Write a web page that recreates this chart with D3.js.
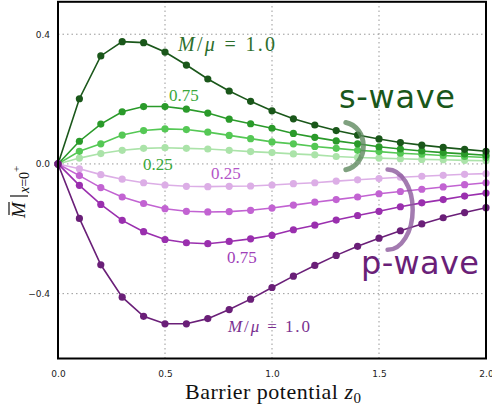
<!DOCTYPE html>
<html>
<head>
<meta charset="utf-8">
<script src="https://cdn.jsdelivr.net/npm/d3@7"></script>
<style>
  body { margin: 0; background: #fff; }
  svg { display: block; }
</style>
</head>
<body>
<svg width="492" height="408"></svg>
<script>
// barrier potential z0, sampled every 0.1
const z0 = d3.range(21).map(i => i / 10);

// s-wave (green), M/mu = 1.0, 0.75, 0.5, 0.25
const s100 = [0, 0.201, 0.333, 0.377, 0.374, 0.345, 0.305, 0.262, 0.225, 0.193, 0.164, 0.139, 0.120, 0.103, 0.089, 0.077, 0.066, 0.058, 0.051, 0.045, 0.039];
const s075 = [0, 0.070, 0.123, 0.161, 0.177, 0.177, 0.169, 0.157, 0.138, 0.124, 0.110, 0.094, 0.082, 0.071, 0.062, 0.053, 0.046, 0.040, 0.035, 0.031, 0.027];
const s050 = [0, 0.039, 0.062, 0.089, 0.103, 0.108, 0.106, 0.098, 0.088, 0.078, 0.068, 0.062, 0.054, 0.048, 0.042, 0.038, 0.033, 0.030, 0.026, 0.023, 0.020];
const s025 = [0, 0.018, 0.032, 0.042, 0.048, 0.050, 0.048, 0.046, 0.042, 0.038, 0.035, 0.031, 0.028, 0.023, 0.020, 0.018, 0.016, 0.014, 0.013, 0.011, 0.010];

// p-wave (purple)
const p025 = [0, -0.015, -0.033, -0.047, -0.058, -0.065, -0.069, -0.070, -0.069, -0.068, -0.065, -0.061, -0.058, -0.053, -0.049, -0.045, -0.041, -0.038, -0.035, -0.032, -0.030];
const p050 = [0, -0.036, -0.073, -0.102, -0.122, -0.138, -0.146, -0.148, -0.147, -0.143, -0.136, -0.127, -0.118, -0.110, -0.102, -0.092, -0.085, -0.078, -0.071, -0.064, -0.058];
const p075 = [0, -0.066, -0.125, -0.174, -0.209, -0.233, -0.243, -0.246, -0.239, -0.231, -0.220, -0.203, -0.189, -0.173, -0.159, -0.146, -0.132, -0.120, -0.110, -0.099, -0.090];
const p100 = [0, -0.168, -0.311, -0.411, -0.470, -0.493, -0.493, -0.477, -0.449, -0.417, -0.381, -0.346, -0.313, -0.282, -0.254, -0.229, -0.206, -0.185, -0.166, -0.150, -0.135];

const xTicks = [0, 0.5, 1.0, 1.5, 2.0];
const yTicks = [-0.4, 0.0, 0.4];

const series = [
  { vals: s025, color: '#abe3a9' },
  { vals: s050, color: '#55c855' },
  { vals: s075, color: '#2a9a2a' },
  { vals: s100, color: '#1a571a' },
  { vals: p025, color: '#dcaee6' },
  { vals: p050, color: '#c263d2' },
  { vals: p075, color: '#9a2fae' },
  { vals: p100, color: '#6a1f78' },
];

const svg = d3.select('svg');
const x = d3.scaleLinear().domain([0, 2]).range([58, 486]);
const y = d3.scaleLinear().domain([-0.6, 0.5]).range([358.5, 1.8]);

// dotted grid
const grid = svg.append('g').attr('stroke', '#999').attr('stroke-dasharray', '1.5,3').attr('stroke-width', 1);
grid.selectAll('.gx').data(xTicks.slice(1, -1)).enter().append('line')
  .attr('x1', d => x(d)).attr('x2', d => x(d)).attr('y1', y.range()[0]).attr('y2', y.range()[1]);
grid.selectAll('.gy').data(yTicks).enter().append('line')
  .attr('y1', d => y(d)).attr('y2', d => y(d)).attr('x1', x.range()[0]).attr('x2', x.range()[1]);

// axes with tick labels
const xAxis = svg.append('g').attr('transform', `translate(0,${y.range()[0]})`)
  .call(d3.axisBottom(x).tickValues(xTicks).tickFormat(d3.format('.1f')).tickSize(0).tickPadding(10));
const yAxis = svg.append('g').attr('transform', `translate(${x.range()[0]},0)`)
  .call(d3.axisLeft(y).tickValues(yTicks).tickFormat(d3.format('.1f')).tickSize(0).tickPadding(8));
[xAxis, yAxis].forEach(a => {
  a.select('.domain').remove();
  a.selectAll('text').attr('font-family', 'DejaVu Sans').attr('font-size', 9).attr('fill', '#222');
});
xAxis.selectAll('text').attr('dy', '0.9em');

// curves
const line = d3.line().x((d, i) => x(z0[i])).y(d => y(d));
series.forEach(s => {
  svg.append('path').attr('d', line(s.vals)).attr('fill', 'none')
    .attr('stroke', s.color).attr('stroke-width', 1.6);
  svg.append('g').selectAll('circle').data(s.vals).enter().append('circle')
    .attr('cx', (d, i) => x(z0[i])).attr('cy', d => y(d)).attr('r', 3.6)
    .attr('fill', s.color);
});

// frame
svg.append('rect').attr('x', x.range()[0]).attr('y', y.range()[1])
  .attr('width', x.range()[1] - x.range()[0]).attr('height', y.range()[0] - y.range()[1])
  .attr('fill', 'none').attr('stroke', '#000').attr('stroke-width', 2);

// curve labels
const serif = 'Liberation Serif';
function label(tx, ty, color, size, parts, len) {
  const t = svg.append('text').attr('x', tx).attr('y', ty).attr('fill', color)
    .attr('font-family', serif).attr('font-size', size);
  if (len) t.attr('textLength', len).attr('lengthAdjust', 'spacing');
  parts.forEach(p => t.append('tspan').attr('font-style', p[1] ? 'italic' : 'normal').text(p[0]));
}
label(178, 51, '#2c6e2c', 20, [['M', true], ['/', false], ['μ', true], [' = 1.0', false]], 97);
label(169, 101, '#3aa83a', 17, [['0.75', false]]);
label(143, 170, '#3aa83a', 17, [['0.25', false]]);
label(211, 179, '#b455c8', 17, [['0.25', false]]);
label(227, 263, '#a040b8', 17, [['0.75', false]]);
label(228, 332, '#7a3090', 17, [['M', true], ['/', false], ['μ', true], [' = 1.0', false]], 82);

// s-wave / p-wave brackets
svg.append('path')
  .attr('d', `M ${x(1.345)} ${y(0.128)} A 21 24 0 0 1 ${x(1.345)} ${y(-0.018)}`)
  .attr('fill', 'none').attr('stroke', '#5f8a5f').attr('stroke-opacity', 0.8)
  .attr('stroke-width', 5).attr('stroke-linecap', 'round');
svg.append('path')
  .attr('d', `M ${x(1.54)} ${y(-0.017)} A 25 40 0 0 1 ${x(1.54)} ${y(-0.265)}`)
  .attr('fill', 'none').attr('stroke', '#8c5a9c').attr('stroke-opacity', 0.8)
  .attr('stroke-width', 4.5).attr('stroke-linecap', 'round');

svg.append('text').attr('x', 339).attr('y', 108).attr('fill', '#1a571a')
  .attr('font-family', 'DejaVu Sans').attr('font-size', 32).attr('textLength', 116)
  .text('s-wave');
svg.append('text').attr('x', 361).attr('y', 274).attr('fill', '#6a1f78')
  .attr('font-family', 'DejaVu Sans').attr('font-size', 32).attr('textLength', 118)
  .text('p-wave');

// axis titles
const xt = svg.append('text').attr('x', 185).attr('y', 399)
  .attr('font-family', serif).attr('font-size', 22).attr('fill', '#111')
  .attr('textLength', 176).attr('lengthAdjust', 'spacing');
xt.append('tspan').text('Barrier potential ');
xt.append('tspan').attr('font-style', 'italic').text('z');
xt.append('tspan').attr('font-size', 15).attr('dy', 4).text('0');

// y title, built in a rotated frame: local x runs up the page
const yt = svg.append('g').attr('transform', 'translate(25,218) rotate(-90)')
  .attr('font-family', serif).attr('fill', '#111');
yt.append('text').attr('x', 0).attr('y', 0).attr('font-size', 19).attr('font-style', 'italic').text('M');
yt.append('line').attr('x1', 3).attr('x2', 16).attr('y1', -16).attr('y2', -16)
  .attr('stroke', '#111').attr('stroke-width', 1.2);
yt.append('line').attr('x1', 22).attr('x2', 22).attr('y1', -15).attr('y2', 3)
  .attr('stroke', '#111').attr('stroke-width', 1.2);
const sub = yt.append('text').attr('x', 25).attr('y', 4).attr('font-size', 14);
sub.append('tspan').attr('font-style', 'italic').text('x');
sub.append('tspan').text('=0');
sub.append('tspan').attr('font-size', 11).attr('dy', -9).text('+');
</script>
</body>
</html>
